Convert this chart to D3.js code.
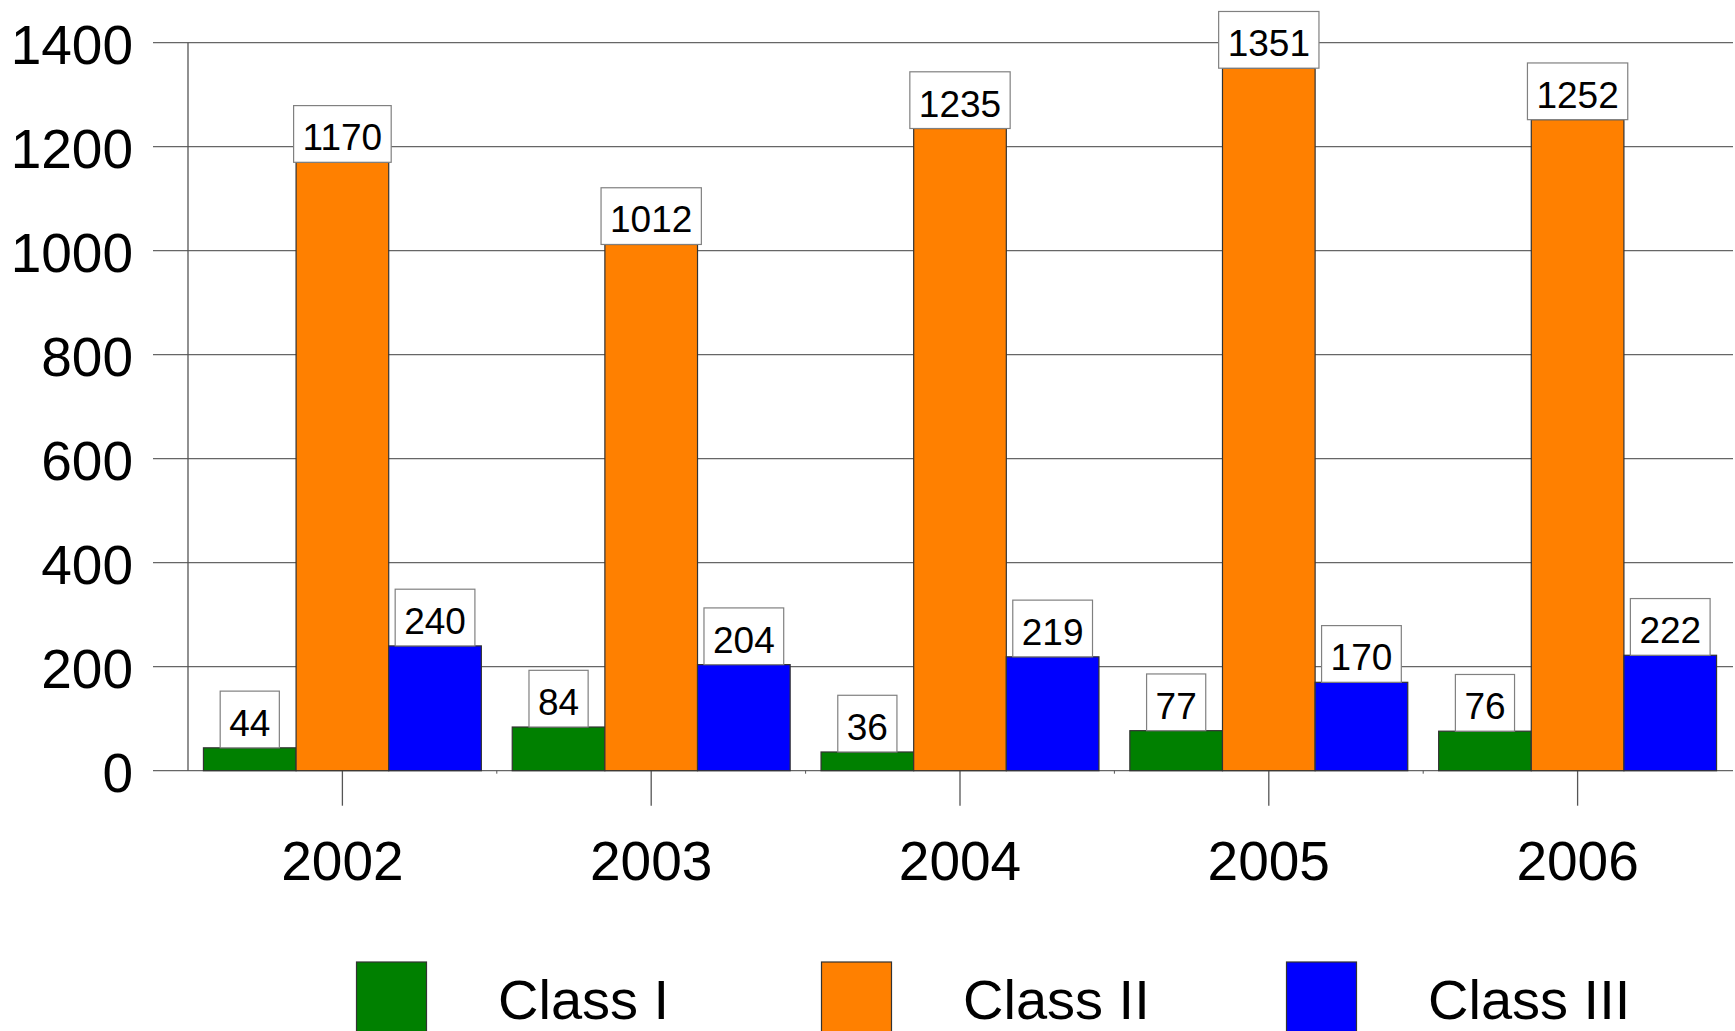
<!DOCTYPE html>
<html>
<head>
<meta charset="utf-8">
<script src="https://cdn.jsdelivr.net/npm/d3@7"></script>
<style>
  body { margin: 0; background: #fff; }
  text { font-family: 'Liberation Sans', Arial, sans-serif; fill: #000; }
</style>
</head>
<body>
<div id="chart"></div>
<script>
const years = ['2002', '2003', '2004', '2005', '2006'];
const seriesNames = ['Class I', 'Class II', 'Class III'];
const classI = [44, 84, 36, 77, 76];
const classII = [1170, 1012, 1235, 1351, 1252];
const classIII = [240, 204, 219, 170, 222];
const yTicks = [0, 200, 400, 600, 800, 1000, 1200, 1400];
const colors = ['#008000', '#ff8000', '#0000ff'];

const W = 1735;
const H = 1031;
const margin = { t: 42.7, r: 3, b: 260.3, l: 188 };
const innerW = W - margin.l - margin.r;
const innerH = H - margin.t - margin.b;

const seriesData = [classI, classII, classIII];

const svg = d3.select('#chart').append('svg')
  .attr('width', W)
  .attr('height', H);

const x = d3.scaleBand()
  .domain(years)
  .range([margin.l, margin.l + innerW])
  .padding(0);

const x1 = d3.scaleBand()
  .domain(seriesNames)
  .range([x.bandwidth() * 0.05, x.bandwidth() * 0.95])
  .padding(0);

const y = d3.scaleLinear()
  .domain([0, 1400])
  .range([margin.t + innerH, margin.t]);

// gridlines
svg.append('g')
  .selectAll('line')
  .data(yTicks)
  .enter().append('line')
  .attr('x1', 153)
  .attr('x2', W - 2)
  .attr('y1', d => y(d))
  .attr('y2', d => y(d))
  .style('stroke', '#666')
  .style('stroke-width', 1.3);

// y axis line
svg.append('line')
  .attr('x1', margin.l)
  .attr('x2', margin.l)
  .attr('y1', y(1400))
  .attr('y2', y(0))
  .style('stroke', '#555')
  .style('stroke-width', 1.3);

// y labels
svg.append('g')
  .selectAll('text')
  .data(yTicks)
  .enter().append('text')
  .attr('x', 133)
  .attr('y', d => y(d) + 21)
  .attr('text-anchor', 'end')
  .style('font-size', '55px')
  .text(d => d);

// x ticks at category centers
svg.append('g')
  .selectAll('line')
  .data(years)
  .enter().append('line')
  .attr('x1', d => x(d) + x.bandwidth() / 2)
  .attr('x2', d => x(d) + x.bandwidth() / 2)
  .attr('y1', y(0))
  .attr('y2', y(0) + 35)
  .style('stroke', '#555')
  .style('stroke-width', 1.3);

// small marks at category boundaries
svg.append('g')
  .selectAll('line')
  .data(years.slice(1))
  .enter().append('line')
  .attr('x1', d => x(d))
  .attr('x2', d => x(d))
  .attr('y1', y(0))
  .attr('y2', y(0) + 3)
  .style('stroke', '#555')
  .style('stroke-width', 1);

// x labels
svg.append('g')
  .selectAll('text')
  .data(years)
  .enter().append('text')
  .attr('x', d => x(d) + x.bandwidth() / 2)
  .attr('y', 880)
  .attr('text-anchor', 'middle')
  .style('font-size', '55px')
  .text(d => d);

// bars
const groups = svg.append('g')
  .selectAll('g')
  .data(years)
  .enter().append('g')
  .attr('transform', d => `translate(${x(d)}, 0)`);

const cells = groups.selectAll('rect')
  .data((d, i) => seriesNames.map((s, j) => ({ s, j, v: seriesData[j][i] })))
  .enter();

cells.append('rect')
  .attr('x', d => x1(d.s))
  .attr('width', x1.bandwidth())
  .attr('y', d => y(d.v))
  .attr('height', d => y(0) - y(d.v))
  .attr('fill', d => colors[d.j])
  .style('stroke', '#333')
  .style('stroke-width', 1.2);

// value label boxes
const labels = svg.append('g')
  .selectAll('g')
  .data(years.flatMap((yr, i) => seriesNames.map((s, j) => ({ yr, s, v: seriesData[j][i] }))))
  .enter().append('g')
  .attr('transform', d => `translate(${x(d.yr) + x1(d.s) + x1.bandwidth() / 2}, ${y(d.v)})`);

const boxH = 56.7;
labels.append('rect').attr('class', 'box');
labels.append('text')
  .attr('text-anchor', 'middle')
  .attr('y', -12)
  .style('font-size', '37px')
  .text(d => d.v);

labels.each(function () {
  const g = d3.select(this);
  const tw = g.select('text').node().getComputedTextLength();
  g.select('rect')
    .attr('x', -(tw + 18) / 2)
    .attr('width', tw + 18)
    .attr('y', -boxH)
    .attr('height', boxH)
    .attr('fill', '#fff')
    .style('stroke', '#808080')
    .style('stroke-width', 1.2);
});

// legend
const legend = svg.append('g')
  .selectAll('g')
  .data(seriesNames)
  .enter().append('g')
  .attr('transform', (d, i) => `translate(${356.5 + i * 465}, 962)`);

legend.append('rect')
  .attr('width', 70)
  .attr('height', 70)
  .attr('fill', (d, i) => colors[i])
  .style('stroke', '#333')
  .style('stroke-width', 1.2);

legend.append('text')
  .attr('x', 141.5)
  .attr('y', 57)
  .style('font-size', '56px')
  .text(d => d);
</script>
</body>
</html>
